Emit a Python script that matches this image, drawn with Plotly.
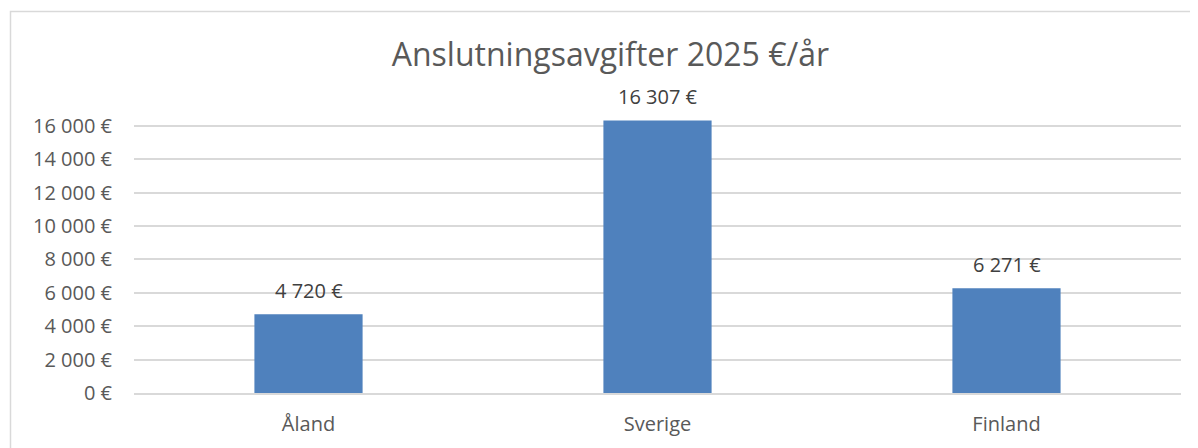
import plotly.graph_objects as go

categories = ["Åland", "Sverige", "Finland"]
values = [4720, 16307, 6271]
tick_vals = [0, 2000, 4000, 6000, 8000, 10000, 12000, 14000, 16000]
tick_text = [f"{v:,}".replace(",", " ") + " €" for v in tick_vals]
label_text = [f"{v:,}".replace(",", " ") + " €" for v in values]

FONT = "Open Sans"
# page body has an 8px margin; figure sized to fit the visible window
W, H = 1190, 440
ml, mr, mt, mb = 126, 17, 101, 55
pw, ph = W - ml - mr, H - mt - mb

fig = go.Figure()
fig.add_trace(go.Bar(
    x=categories, y=values, marker=dict(color="#4F81BD", line=dict(width=0)),
    width=0.31, hoverinfo="skip",
))
for c, v, t in zip(categories, values, label_text):
    fig.add_annotation(x=c, y=v, text=t, showarrow=False, yanchor="middle", yshift=24,
                       font=dict(family=FONT, size=20, color="#404040"))

# outer chart border
fig.add_shape(type="rect", xref="paper", yref="paper",
              x0=(2.5 - ml) / pw, x1=(W + 20 - ml) / pw,
              y0=(H - mb - (H + 20)) / ph, y1=(H - mb - 3.5) / ph,
              line=dict(color="#D9D9D9", width=1.5), layer="below")

fig.update_layout(
    width=W, height=H,
    margin=dict(l=ml, r=mr, t=mt, b=mb),
    paper_bgcolor="white", plot_bgcolor="white",
    showlegend=False,
    title=dict(text="Anslutningsavgifter 2025 €/år", x=0.455, xref="paper", xanchor="center",
               y=1 - 47 / H, yanchor="middle",
               font=dict(family=FONT, size=32, color="#595959")),
    font=dict(family=FONT, color="#595959"),
)
fig.update_yaxes(range=[0, 17000], tickvals=tick_vals, ticktext=tick_text,
                 showgrid=True, gridcolor="#D9D9D9", gridwidth=1.5,
                 zeroline=False, showline=False,
                 tickfont=dict(family=FONT, size=20, color="#595959"),
                 ticklabelstandoff=21, fixedrange=True)
fig.update_xaxes(showline=True, linecolor="#D9D9D9", linewidth=1.5,
                 tickfont=dict(family=FONT, size=20, color="#595959"),
                 ticklabelstandoff=12, fixedrange=True)

fig.write_html("out.html")
